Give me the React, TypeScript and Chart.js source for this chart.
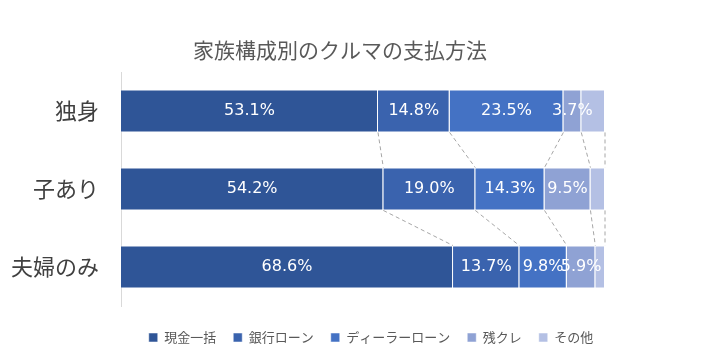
import React, { useEffect, useRef } from "react";
import { Chart, registerables } from "chart.js";

Chart.register(...registerables);

const titleText = "家族構成別のクルマの支払方法";
const categories = ["独身", "子あり", "夫婦のみ"];
const seriesNames = ["現金一括", "銀行ローン", "ディーラーローン", "残クレ", "その他"];
const cashValues = [53.1, 54.2, 68.6];
const bankLoanValues = [14.8, 19.0, 13.7];
const dealerLoanValues = [23.5, 14.3, 9.8];
const residualValues = [3.7, 9.5, 5.9];
const otherValues = [4.9, 3.0, 2.0];
const seriesColors = ["#2F5597", "#3A63AE", "#4472C4", "#8FA2D4", "#B4C0E4"];
const labeledSeries = [true, true, true, true, false];

const FONT = "'Noto Sans CJK JP', 'Noto Sans', sans-serif";
const LABEL_FONT = "'DejaVu Sans', 'Noto Sans CJK JP', sans-serif";

export default function App() {
  const ref = useRef<HTMLCanvasElement | null>(null);
  useEffect(() => {
    if (!ref.current) return;
    const values = [cashValues, bankLoanValues, dealerLoanValues, residualValues, otherValues];

    const titlePlugin = {
      id: "customTitle",
      afterDraw(chart: any) {
        const ctx = chart.ctx;
        ctx.save();
        ctx.font = `21px ${FONT}`;
        ctx.fillStyle = "#595959";
        ctx.textAlign = "center";
        ctx.textBaseline = "middle";
        ctx.fillText(titleText, 340, 50);
        ctx.restore();
      },
    };

    const legendShiftPlugin = {
      id: "legendShift",
      afterLayout(chart: any) {
        const lg = chart.legend;
        if (lg) {
          lg.left += 8;
          lg.right += 8;
        }
      },
    };

    const seriesLinePlugin = {
      id: "seriesLines",
      afterDatasetsDraw(chart: any) {
        const ctx = chart.ctx;
        ctx.save();
        ctx.strokeStyle = "#A6A6A6";
        ctx.lineWidth = 1;
        ctx.setLineDash([4, 3]);
        chart.data.datasets.forEach((_: any, di: number) => {
          const meta = chart.getDatasetMeta(di);
          for (let k = 0; k < meta.data.length - 1; k++) {
            const a = meta.data[k];
            const b = meta.data[k + 1];
            ctx.beginPath();
            ctx.moveTo(a.x, a.y + a.height / 2);
            ctx.lineTo(b.x, b.y - b.height / 2);
            ctx.stroke();
          }
        });
        ctx.restore();
      },
    };

    const labelPlugin = {
      id: "dataLabels",
      afterDatasetsDraw(chart: any) {
        const ctx = chart.ctx;
        ctx.save();
        ctx.font = `16px ${LABEL_FONT}`;
        ctx.fillStyle = "#FFFFFF";
        ctx.textAlign = "center";
        ctx.textBaseline = "middle";
        chart.data.datasets.forEach((ds: any, di: number) => {
          if (!labeledSeries[di]) return;
          const meta = chart.getDatasetMeta(di);
          meta.data.forEach((el: any, i: number) => {
            ctx.fillText(ds.data[i].toFixed(1) + "%", (el.x + el.base) / 2, el.y);
          });
        });
        ctx.restore();
      },
    };

    const chart = new Chart(ref.current, {
      type: "bar",
      data: {
        labels: categories,
        datasets: seriesNames.map((name, i) => ({
          label: name,
          data: values[i],
          backgroundColor: seriesColors[i],
          borderColor: "rgba(255,255,255,0.5)",
          borderWidth: 1,
          barPercentage: 0.55,
          categoryPercentage: 1,
        })),
      },
      options: {
        indexAxis: "y",
        animation: false,
        responsive: true,
        maintainAspectRatio: false,
        layout: { padding: { top: 72, bottom: 10, left: 0, right: 0 } },
        scales: {
          x: {
            stacked: true,
            min: 0,
            max: 100,
            display: true,
            grid: { display: false },
            border: { display: false },
            ticks: { display: false },
            afterFit: (s: any) => { s.height = 8; },
          },
          y: {
            stacked: true,
            grid: { display: false },
            border: { display: true, color: "#D9D9D9" },
            ticks: { color: "#404040", font: { size: 22, family: FONT }, padding: 14 },
            afterFit: (s: any) => { s.width = 121; },
          },
          yDummy: {
            type: "category",
            axis: "y",
            position: "right",
            display: true,
            grid: { display: false },
            border: { display: false },
            ticks: { display: false },
            afterFit: (s: any) => { s.width = 115; },
          },
        },
        plugins: {
          title: { display: false },
          tooltip: { enabled: false },
          legend: {
            position: "bottom",
            fullSize: false,
            labels: {
              boxWidth: 9,
              boxHeight: 9,
              padding: 17,
              color: "#595959",
              font: { size: 13, family: FONT },
            },
          },
        },
      },
      plugins: [titlePlugin, legendShiftPlugin, seriesLinePlugin, labelPlugin],
    } as any);
    return () => chart.destroy();
  }, []);

  return (
    <div style={{ position: "fixed", left: 0, top: 0, width: 720, height: 364, background: "#fff" }}>
      <canvas ref={ref} />
    </div>
  );
}
